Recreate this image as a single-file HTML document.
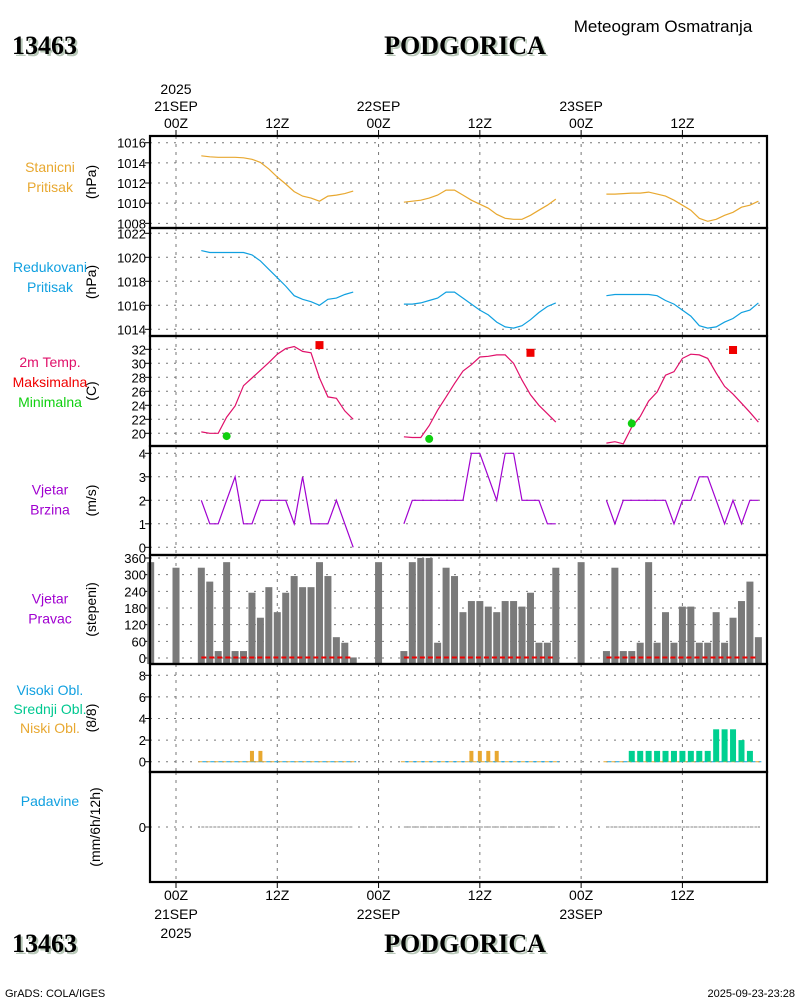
<!DOCTYPE html>
<html><head><meta charset="utf-8"><title>Meteogram PODGORICA</title>
<style>
html,body{margin:0;padding:0;background:#fff}
svg{display:block}
text{font-family:"Liberation Sans",sans-serif}
.ser{font-family:"Liberation Serif",serif;font-weight:bold}
</style></head>
<body>
<svg id="chart" width="800" height="1000" viewBox="0 0 800 1000" xmlns="http://www.w3.org/2000/svg">
<rect x="0" y="0" width="800" height="1000" fill="#fff"/>
<g>
<text x="663" y="32" font-size="17" text-anchor="middle" fill="#000">Meteogram Osmatranja</text>
<text class="ser" x="14" y="56" font-size="26" fill="#b8c8b8">13463</text>
<text class="ser" x="12" y="54" font-size="26" fill="#000">13463</text>
<text class="ser" x="467" y="56" font-size="26" text-anchor="middle" fill="#b8c8b8">PODGORICA</text>
<text class="ser" x="465" y="54" font-size="26" text-anchor="middle" fill="#000">PODGORICA</text>
<text class="ser" x="14" y="954" font-size="26" fill="#b8c8b8">13463</text>
<text class="ser" x="12" y="952" font-size="26" fill="#000">13463</text>
<text class="ser" x="467" y="954" font-size="26" text-anchor="middle" fill="#b8c8b8">PODGORICA</text>
<text class="ser" x="465" y="952" font-size="26" text-anchor="middle" fill="#000">PODGORICA</text>
<text x="5" y="997" font-size="11" fill="#000">GrADS: COLA/IGES</text>
<text x="795" y="997" font-size="11" text-anchor="end" fill="#000">2025-09-23-23:28</text>
</g>
<g id="plots"></g>
</svg>
<script>
// ---- data ----
const dayStarts = [3, 27, 51];
const stationP = [
 [1014.7,1014.6,1014.55,1014.55,1014.55,1014.5,1014.35,1014.05,1013.4,1012.6,1011.9,1011.15,1010.7,1010.5,1010.2,1010.7,1010.8,1010.95,1011.2],
 [1010.1,1010.2,1010.3,1010.5,1010.8,1011.3,1011.3,1010.8,1010.3,1009.9,1009.5,1008.9,1008.5,1008.4,1008.4,1008.8,1009.3,1009.8,1010.4],
 [1010.9,1010.9,1010.95,1011.0,1011.0,1011.1,1010.9,1010.7,1010.3,1009.8,1009.3,1008.5,1008.2,1008.4,1008.8,1009.1,1009.6,1009.8,1010.2]
];
const slp = [
 [1020.56,1020.4,1020.4,1020.4,1020.4,1020.4,1020.2,1019.7,1019.0,1018.3,1017.6,1016.8,1016.5,1016.3,1016.0,1016.5,1016.6,1016.9,1017.1],
 [1016.1,1016.1,1016.2,1016.4,1016.6,1017.1,1017.1,1016.6,1016.1,1015.6,1015.2,1014.6,1014.2,1014.1,1014.3,1014.8,1015.4,1015.9,1016.2],
 [1016.8,1016.9,1016.9,1016.9,1016.9,1016.9,1016.8,1016.4,1016.1,1015.6,1015.1,1014.3,1014.1,1014.2,1014.6,1014.9,1015.4,1015.6,1016.2]
];
const temp = [
 [20.2,20.0,20.0,22.3,23.9,26.8,27.9,29.0,30.1,31.3,32.1,32.4,31.7,31.5,27.9,25.2,25.0,23.2,22.0],
 [19.5,19.4,19.4,21.1,23.3,25.2,27.1,28.9,29.8,30.9,31.0,31.2,31.2,30.0,27.6,25.5,24.0,22.8,21.6],
 [18.6,18.8,18.5,20.9,22.4,24.6,25.9,28.3,28.8,30.7,31.3,31.2,30.7,28.6,26.7,25.6,24.3,23.0,21.6]
];
const tmaxHours = [17, 42, 66];
const tmaxVals = [32.6, 31.5, 31.9];
const tminHours = [6, 30, 54];
const tminVals = [19.6, 19.2, 21.4];
const windSpd = [
 [2,1,1,2,3,1,1,2,2,2,2,1,3,1,1,1,2,1,0],
 [1,2,2,2,2,2,2,2,4,4,3,2,4,4,2,2,2,1,1],
 [2,1,2,2,2,2,2,2,1,2,2,3,3,2,1,2,1,2,2]
];
const dirHours = [-3,0,3,4,5,6,7,8,9,10,11,12,13,14,15,16,17,18,19,20,21,24,
 27,28,29,30,31,32,33,34,35,36,37,38,39,40,41,42,43,44,45,48,
 51,52,53,54,55,56,57,58,59,60,61,62,63,64,65,66,67,68,69];
const dirVals = [345,325,325,275,25,345,25,25,235,145,255,165,235,295,255,255,345,295,75,55,2,345,
 25,345,360,360,55,325,295,165,205,205,185,165,205,205,185,235,55,55,325,345,
 25,325,25,25,55,345,55,165,55,185,185,55,55,165,55,145,205,275,75];
const lowCloudHours = [9,10,35,36,37,38];
const lowCloudVals = [1,1,1,1,1,1];
const midCloudHours = [54,55,56,57,58,59,60,61,62,63,64,65,66,67,68];
const midCloudVals = [1,1,1,1,1,1,1,1,1,1,3,3,3,2,1];
const precip = [0,0,0];

const xTickHours = [0,12,24,36,48,60];
const xTickLabels = ["00Z","12Z","00Z","12Z","00Z","12Z"];
const dayLabels = ["21SEP","22SEP","23SEP"];

// ---- axes ----
const X0 = 150, X1 = 767;
const xh = h => 176 + h * 8.44;
const panels = [
 {top:136,bot:228, y:v=>142.7+(1016-v)*10.08, ticks:[1008,1010,1012,1014,1016], unit:"(hPa)", labels:[["Stanicni","#e8a830"],["Pritisak","#e8a830"]]},
 {top:228,bot:336, y:v=>257.3+(1020-v)*12, ticks:[1014,1016,1018,1020,1022], unit:"(hPa)", labels:[["Redukovani","#10a0e0"],["Pritisak","#10a0e0"]]},
 {top:336,bot:446, y:v=>433.3-(v-20)*7, ticks:[20,22,24,26,28,30,32], unit:"(C)", labels:[["2m Temp.","#e0106a"],["Maksimalna","#f00000"],["Minimalna","#10d010"]]},
 {top:446,bot:555, y:v=>547.3-v*23.5, ticks:[0,1,2,3,4], unit:"(m/s)", labels:[["Vjetar","#a000d0"],["Brzina","#a000d0"]]},
 {top:555,bot:664, y:v=>658-v*0.2778, ticks:[0,60,120,180,240,300,360], unit:"(stepeni)", labels:[["Vjetar","#a000d0"],["Pravac","#a000d0"]]},
 {top:664,bot:772, y:v=>761.7-v*10.8, ticks:[0,2,4,6,8], unit:"(8/8)", labels:[["Visoki Obl.","#10a0e0"],["Srednji Obl.","#00c890"],["Niski Obl.","#e8a830"]]},
 {top:772,bot:882, y:v=>827-v*10, ticks:[0], unit:"(mm/6h/12h)", labels:[["Padavine","#10a0e0"]]}
];
const NS = "http://www.w3.org/2000/svg";
const root = document.getElementById('plots');
function mk(tag, attrs, parent, txt){
  const e = document.createElementNS(NS, tag);
  for (const k in attrs) e.setAttribute(k, attrs[k]);
  if (txt !== undefined) e.textContent = txt;
  (parent || root).appendChild(e);
  return e;
}
const panelNames = ["station-pressure","sea-level-pressure","temperature","wind-speed","wind-direction","cloud-cover","precipitation"];

panels.forEach((p, i) => {
  const g = mk('g', {});
  
  
  p.ticks.forEach(t => {
    const y = p.y(t);
    const gl = mk('line', {x1:X0, x2:X1, y1:y, y2:y, stroke:'#777', 'stroke-width':1, 'stroke-dasharray':'2,6'}, g);
    
    
    const tk = mk('line', {x1:X0-5, x2:X0, y1:y, y2:y, stroke:'#000', 'stroke-width':1}, g);
    
    
    const tl = mk('text', {x:X0-4, y:y+5, 'font-size':13, 'text-anchor':'end', fill:'#000'}, g, String(t));
    
    
  });
  xTickHours.forEach(h => {
    const vl = mk('line', {x1:xh(h), x2:xh(h), y1:p.top, y2:p.bot, stroke:'#777', 'stroke-width':1, 'stroke-dasharray':'3,5'}, g);
    
    
  });
  const cy = (p.top + p.bot) / 2;
  const ux = i === 6 ? 100 : 96;
  const un = mk('text', {x:ux, y:cy, 'font-size':14, 'text-anchor':'middle', fill:'#000', transform:`rotate(-90 ${ux} ${cy})`}, g, p.unit);
  
  
  const n = p.labels.length;
  const baseY = (i === 6) ? 806 : (i === 5 ? 695 : (cy - (n - 1) * 10 + 4 - (i===2?8:0) - (i<2?4:0)));
  const step = i === 5 ? 19 : 20;
  p.labels.forEach((l, k) => {
    const lt = mk('text', {x:50, y:baseY + k * step, 'font-size':14, 'text-anchor':'middle', fill:l[1]}, g, l[0]);
    
    
  });
  p.g = g;
});

function line(panel, vals, start, color, name){
  const pts = vals.map((v, k) => xh(start + k).toFixed(1) + ',' + panel.y(v).toFixed(1)).join(' ');
  const pl = mk('polyline', {points:pts, fill:'none', stroke:color, 'stroke-width':1.2}, panel.g);
  
  
}
dayStarts.forEach((s, d) => {
  line(panels[0], stationP[d], s, '#e8a830', 'station-pressure-line');
  line(panels[1], slp[d], s, '#10a0e0', 'sea-level-pressure-line');
  line(panels[2], temp[d], s, '#e0106a', 'temperature-line');
  line(panels[3], windSpd[d], s, '#a000d0', 'wind-speed-line');
});
tmaxHours.forEach((h, k) => {
  const y = panels[2].y(tmaxVals[k]);
  const r = mk('rect', {x:xh(h)-4, y:y-4, width:8, height:8, fill:'#f00000'}, panels[2].g);
  
  
});
tminHours.forEach((h, k) => {
  const y = panels[2].y(tminVals[k]);
  const c = mk('circle', {cx:xh(h), cy:y, r:4, fill:'#10d010'}, panels[2].g);
  
  
});
dirHours.forEach((h, k) => {
  const p = panels[4];
  const y = p.y(dirVals[k]);
  const b = mk('rect', {x:xh(h)-3.5, y:y, width:7, height:p.bot - y, fill:'#7a7a7a'}, p.g);
  
  
});
dayStarts.forEach(s => {
  const p = panels[4];
  const dl = mk('line', {x1:xh(s), x2:xh(s+18), y1:p.y(2), y2:p.y(2), stroke:'#f00000', 'stroke-width':2, 'stroke-dasharray':'5,3'}, p.g);
  
  
  const p5 = panels[5];
  const bl = mk('line', {x1:xh(s)-3, x2:xh(s+18)+3, y1:p5.y(0), y2:p5.y(0), stroke:'#e8a830', 'stroke-width':1, 'stroke-dasharray':'4,4'}, p5.g);
  
  
  const bl2 = mk('line', {x1:xh(s)+1, x2:xh(s+18)+3, y1:p5.y(0), y2:p5.y(0), stroke:'#10a0e0', 'stroke-width':1, 'stroke-dasharray':'4,4'}, p5.g);
  
  
});
lowCloudHours.forEach((h, k) => {
  const p = panels[5];
  const y = p.y(lowCloudVals[k]);
  const b = mk('rect', {x:xh(h)-2, y:y, width:4, height:p.y(0) - y, fill:'#e8a830'}, p.g);
  
  
});
midCloudHours.forEach((h, k) => {
  const p = panels[5];
  const y = p.y(midCloudVals[k]);
  const b = mk('rect', {x:xh(h)-3, y:y, width:6, height:p.y(0) - y, fill:'#00d090'}, p.g);
  
  
});
dayStarts.forEach((s, d) => {
  const p = panels[6];
  const pl = mk('line', {x1:xh(s), x2:xh(s+18), y1:p.y(precip[d]), y2:p.y(precip[d]), stroke:'#888', 'stroke-width':1, 'stroke-dasharray':'3,1'}, p.g);
  
  
});
panels.forEach((p, i) => {
  const fr = mk('rect', {x:X0, y:p.top, width:X1-X0, height:p.bot-p.top, fill:'none', stroke:'#000', 'stroke-width':2.2});
  
  
});
xTickHours.forEach((h, k) => {
  const x = xh(h);
  const t1 = mk('line', {x1:x, x2:x, y1:130, y2:136, stroke:'#000'});
  
  
  const t2 = mk('line', {x1:x, x2:x, y1:882, y2:888, stroke:'#000'});
  
  
  const l1 = mk('text', {x:x, y:128, 'font-size':14, 'text-anchor':'middle'}, root, xTickLabels[k]);
  
  
  const l2 = mk('text', {x:x, y:900, 'font-size':14, 'text-anchor':'middle'}, root, xTickLabels[k]);
  
  
});
dayLabels.forEach((dl, k) => {
  const x = xh(k * 24);
  const a = mk('text', {x:x, y:111, 'font-size':14, 'text-anchor':'middle'}, root, dl);
  
  
  const b = mk('text', {x:x, y:919, 'font-size':14, 'text-anchor':'middle'}, root, dl);
  
  
});
const y1 = mk('text', {x:xh(0), y:94, 'font-size':14, 'text-anchor':'middle'}, root, '2025');


const y2 = mk('text', {x:xh(0), y:938, 'font-size':14, 'text-anchor':'middle'}, root, '2025');


</script>
</body></html>
